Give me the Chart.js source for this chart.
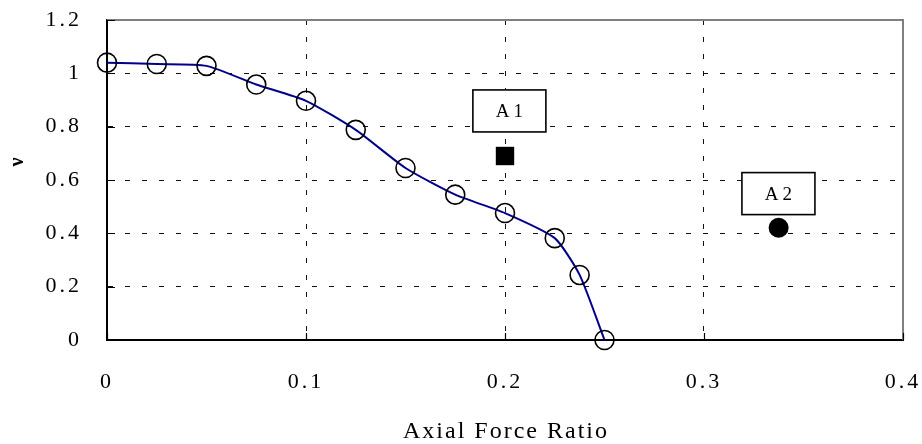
<!DOCTYPE html>
<html><head><meta charset="utf-8">
<script src="https://cdn.jsdelivr.net/npm/chart.js@4/dist/chart.umd.min.js"></script>
<style>html,body{margin:0;padding:0;background:#fff}#wrap{width:922px;height:444px}</style>
</head><body><div id="wrap"><canvas id="c" width="922" height="444"></canvas></div>
<script>
const axialForceRatio = [0, 0.025, 0.05, 0.075, 0.1, 0.125, 0.15, 0.175, 0.2, 0.225, 0.2375, 0.25];
const nuValues = [1.04, 1.035, 1.028, 0.958, 0.897, 0.788, 0.645, 0.545, 0.476, 0.382, 0.244, 0];
const specimenNames = ['A1', 'A2'];
const specimenX = [0.2, 0.3375];
const specimenY = [0.69, 0.421];
const labelX = [0.2022, 0.3374];
const labelY = [0.859, 0.549];
const xTicks = [0, 0.1, 0.2, 0.3, 0.4];
const xTickLabels = ['0', '0.1', '0.2', '0.3', '0.4'];
const yTicks = [0, 0.2, 0.4, 0.6, 0.8, 1, 1.2];
const yTickLabels = ['0', '0.2', '0.4', '0.6', '0.8', '1', '1.2'];
const xTitle = 'Axial Force Ratio';
const yTitle = 'ν';

const SERIF = '"Liberation Serif", "Times New Roman", serif';

const decorPlugin = {
  id: 'decor',
  beforeDraw(chart) {
    chart.ctx.letterSpacing = '3px';
  },
  afterDatasetsDraw(chart) {
    const ctx = chart.ctx, xs = chart.scales.x, ys = chart.scales.y;
    ctx.save();
    for (let i = 0; i < specimenNames.length; i++) {
      const cx = xs.getPixelForValue(labelX[i]);
      const cy = ys.getPixelForValue(labelY[i]);
      const w = 73, h = 42;
      ctx.fillStyle = '#fff';
      ctx.fillRect(cx - w / 2, cy - h / 2, w, h);
      ctx.lineWidth = 1.6;
      ctx.strokeStyle = '#000';
      ctx.strokeRect(cx - w / 2, cy - h / 2, w, h);
      ctx.fillStyle = '#000';
      ctx.font = '19px ' + SERIF;
      ctx.letterSpacing = '4px';
      ctx.textAlign = 'center';
      ctx.textBaseline = 'middle';
      ctx.fillText(specimenNames[i], cx + 2, cy + 1);
    }
    ctx.restore();
  },
  afterDraw(chart) {
    const ctx = chart.ctx, xs = chart.scales.x, ys = chart.scales.y;
    const a = chart.chartArea;
    ctx.save();
    ctx.strokeStyle = '#7f7f7f';
    ctx.lineWidth = 2;
    ctx.beginPath();
    ctx.moveTo(a.left, a.top);
    ctx.lineTo(a.right, a.top);
    ctx.lineTo(a.right, a.bottom);
    ctx.stroke();
    ctx.strokeStyle = '#000';
    ctx.lineWidth = 1.2;
    ctx.beginPath();
    xTicks.forEach(v => {
      const px = Math.round(xs.getPixelForValue(v)) + 0.5;
      ctx.moveTo(px, a.bottom);
      ctx.lineTo(px, a.bottom - 7);
    });
    yTicks.forEach(v => {
      const py = Math.round(ys.getPixelForValue(v)) + 0.5;
      ctx.moveTo(a.left, py);
      ctx.lineTo(a.left + 8, py);
    });
    ctx.stroke();
    ctx.fillStyle = '#000';
    ctx.font = '24px ' + SERIF;
    ctx.letterSpacing = '2px';
    ctx.textAlign = 'center';
    ctx.textBaseline = 'middle';
    ctx.fillText(xTitle, (a.left + a.right) / 2 + 1, 432);
    ctx.translate(18, 162);
    ctx.rotate(-Math.PI / 2);
    ctx.font = 'bold 20px ' + SERIF;
    ctx.letterSpacing = '0px';
    ctx.fillText(yTitle, 0, 0);
    ctx.restore();
  }
};

const gridColor = (edgeVals) => (c) => {
  const v = c.tick ? c.tick.value : null;
  return edgeVals.includes(v) ? 'rgba(0,0,0,0)' : '#111';
};
const zeroPad = (s) => { s.paddingLeft = 0; s.paddingRight = 0; s.paddingTop = 0; s.paddingBottom = 0; };

new Chart(document.getElementById('c'), {
  type: 'scatter',
  data: {
    datasets: [
      {
        label: 'curve',
        data: axialForceRatio.map((x, i) => ({ x, y: nuValues[i] })),
        showLine: true,
        borderColor: '#00008b',
        borderWidth: 2,
        tension: 0.2,
        pointStyle: 'circle',
        pointRadius: 9.5,
        pointBorderWidth: 1.6,
        pointBorderColor: '#000',
        pointBackgroundColor: 'rgba(0,0,0,0)',
        clip: false
      },
      {
        label: specimenNames[0],
        data: [{ x: specimenX[0], y: specimenY[0] }],
        pointStyle: 'rect',
        pointRadius: 13,
        pointBorderWidth: 0,
        pointBackgroundColor: '#000',
        pointBorderColor: '#000'
      },
      {
        label: specimenNames[1],
        data: [{ x: specimenX[1], y: specimenY[1] }],
        pointStyle: 'circle',
        pointRadius: 10,
        pointBorderWidth: 0,
        pointBackgroundColor: '#000',
        pointBorderColor: '#000'
      }
    ]
  },
  options: {
    responsive: false,
    animation: false,
    devicePixelRatio: 1,
    layout: { padding: { top: 20, right: 19, left: 0, bottom: 0 } },
    plugins: { legend: { display: false }, tooltip: { enabled: false } },
    scales: {
      x: {
        type: 'linear',
        min: 0, max: 0.4,
        afterBuildTicks: (s) => { s.ticks = xTicks.map(v => ({ value: v })); },
        afterFit: (s) => { s.height = 104; zeroPad(s); },
        ticks: {
          color: '#000',
          font: { family: SERIF, size: 22 },
          padding: 29,
          maxRotation: 0,
          callback: (v, i) => xTickLabels[i]
        },
        grid: { color: gridColor([0, 0.4]), lineWidth: 1, drawTicks: false },
        border: { color: '#000', width: 2, dash: [5, 12] }
      },
      y: {
        type: 'linear',
        min: 0, max: 1.2,
        afterBuildTicks: (s) => { s.ticks = yTicks.map(v => ({ value: v })); },
        afterFit: (s) => { s.width = 107; zeroPad(s); },
        ticks: {
          color: '#000',
          font: { family: SERIF, size: 22 },
          padding: 25,
          callback: (v, i) => yTickLabels[i]
        },
        grid: { color: gridColor([0, 1.2]), lineWidth: 1, drawTicks: false },
        border: { color: '#000', width: 2, dash: [5, 12] }
      }
    }
  },
  plugins: [decorPlugin]
});
</script>
</body></html>
